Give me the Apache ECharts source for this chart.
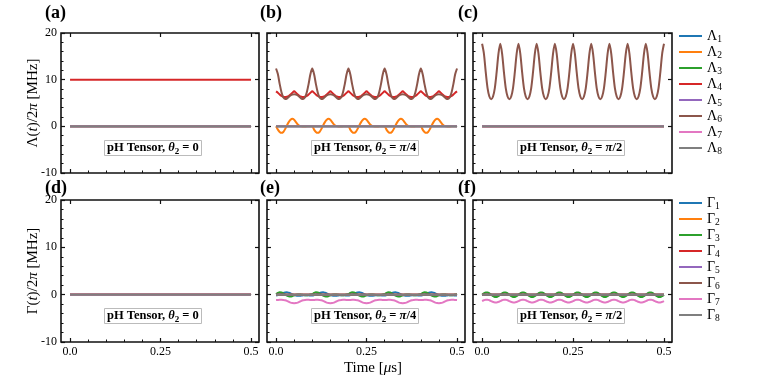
<!DOCTYPE html>
<html><head><meta charset="utf-8">
<script src="https://cdn.jsdelivr.net/npm/echarts@6/dist/echarts.min.js"></script>
<style>html,body{margin:0;padding:0;background:#fff}#c{width:763px;height:382px}</style>
</head><body><div id="c"></div>
<script>
// ---------- data ----------
const T = [
0,0.005,0.01,0.015,0.02,0.025,0.03,0.035,0.04,0.045,
0.05,0.055,0.06,0.065,0.07,0.075,0.08,0.085,0.09,0.095,
0.1,0.105,0.11,0.115,0.12,0.125,0.13,0.135,0.14,0.145,
0.15,0.155,0.16,0.165,0.17,0.175,0.18,0.185,0.19,0.195,
0.2,0.205,0.21,0.215,0.22,0.225,0.23,0.235,0.24,0.245,
0.25,0.255,0.26,0.265,0.27,0.275,0.28,0.285,0.29,0.295,
0.3,0.305,0.31,0.315,0.32,0.325,0.33,0.335,0.34,0.345,
0.35,0.355,0.36,0.365,0.37,0.375,0.38,0.385,0.39,0.395,
0.4,0.405,0.41,0.415,0.42,0.425,0.43,0.435,0.44,0.445,
0.45,0.455,0.46,0.465,0.47,0.475,0.48,0.485,0.49,0.495,
0.5];
const T_ENDS = [0, 0.5];

const X_TICKS = [0, 0.25, 0.5];
const X_TICK_LABELS = ['0.0', '0.25', '0.5'];
const X_MINOR = [0.05, 0.1, 0.15, 0.2, 0.3, 0.35, 0.4, 0.45];
const Y_TICKS = [-10, 0, 10, 20];

const LAMBDA_NAMES = ['Λ1','Λ2','Λ3','Λ4','Λ5','Λ6','Λ7','Λ8'];
const GAMMA_NAMES = ['Γ1','Γ2','Γ3','Γ4','Γ5','Γ6','Γ7','Γ8'];
const PANEL_LABELS = ['(a)','(b)','(c)','(d)','(e)','(f)'];
const PANEL_THETA = ['0','π/4','π/2','0','π/4','π/2'];

// (b) Λ2 orange
const B_L2 = [
0,-0.7,-1.2,-1.4,-1.2,-0.6,0.2,0.9,1.4,1.6,1.4,0.9,0.4,0.1,0,-0.05,-0.05,0,0,0,
0,-0.7,-1.2,-1.4,-1.2,-0.6,0.2,0.9,1.4,1.6,1.4,0.9,0.4,0.1,0,-0.05,-0.05,0,0,0,
0,-0.7,-1.2,-1.4,-1.2,-0.6,0.2,0.9,1.4,1.6,1.4,0.9,0.4,0.1,0,-0.05,-0.05,0,0,0,
0,-0.7,-1.2,-1.4,-1.2,-0.6,0.2,0.9,1.4,1.6,1.4,0.9,0.4,0.1,0,-0.05,-0.05,0,0,0,
0,-0.7,-1.2,-1.4,-1.2,-0.6,0.2,0.9,1.4,1.6,1.4,0.9,0.4,0.1,0,-0.05,-0.05,0,0,0,
0];
// (b) Λ4 red
const B_L4 = [
7.5,7.2,6.8,6.5,6.35,6.3,6.35,6.5,6.8,7.2, 7.5,7.2,6.8,6.5,6.35,6.3,6.35,6.5,6.8,7.2,
7.5,7.2,6.8,6.5,6.35,6.3,6.35,6.5,6.8,7.2, 7.5,7.2,6.8,6.5,6.35,6.3,6.35,6.5,6.8,7.2,
7.5,7.2,6.8,6.5,6.35,6.3,6.35,6.5,6.8,7.2, 7.5,7.2,6.8,6.5,6.35,6.3,6.35,6.5,6.8,7.2,
7.5,7.2,6.8,6.5,6.35,6.3,6.35,6.5,6.8,7.2, 7.5,7.2,6.8,6.5,6.35,6.3,6.35,6.5,6.8,7.2,
7.5,7.2,6.8,6.5,6.35,6.3,6.35,6.5,6.8,7.2, 7.5,7.2,6.8,6.5,6.35,6.3,6.35,6.5,6.8,7.2,
7.5];
// (b) Λ6 brown
const B_L6 = [
12.4,11.2,9.1,7.3,6.2,5.85,5.95,6.3,6.6,6.8,6.9,6.8,6.6,6.3,5.95,5.85,6.2,7.3,9.1,11.2,
12.4,11.2,9.1,7.3,6.2,5.85,5.95,6.3,6.6,6.8,6.9,6.8,6.6,6.3,5.95,5.85,6.2,7.3,9.1,11.2,
12.4,11.2,9.1,7.3,6.2,5.85,5.95,6.3,6.6,6.8,6.9,6.8,6.6,6.3,5.95,5.85,6.2,7.3,9.1,11.2,
12.4,11.2,9.1,7.3,6.2,5.85,5.95,6.3,6.6,6.8,6.9,6.8,6.6,6.3,5.95,5.85,6.2,7.3,9.1,11.2,
12.4,11.2,9.1,7.3,6.2,5.85,5.95,6.3,6.6,6.8,6.9,6.8,6.6,6.3,5.95,5.85,6.2,7.3,9.1,11.2,
12.4];
// (c) Λ6 brown
const C_L6 = [
17.7,15.6,11.6,8.2,6.4,5.8,6.4,8.2,11.6,15.6, 17.7,15.6,11.6,8.2,6.4,5.8,6.4,8.2,11.6,15.6,
17.7,15.6,11.6,8.2,6.4,5.8,6.4,8.2,11.6,15.6, 17.7,15.6,11.6,8.2,6.4,5.8,6.4,8.2,11.6,15.6,
17.7,15.6,11.6,8.2,6.4,5.8,6.4,8.2,11.6,15.6, 17.7,15.6,11.6,8.2,6.4,5.8,6.4,8.2,11.6,15.6,
17.7,15.6,11.6,8.2,6.4,5.8,6.4,8.2,11.6,15.6, 17.7,15.6,11.6,8.2,6.4,5.8,6.4,8.2,11.6,15.6,
17.7,15.6,11.6,8.2,6.4,5.8,6.4,8.2,11.6,15.6, 17.7,15.6,11.6,8.2,6.4,5.8,6.4,8.2,11.6,15.6,
17.7];
// (e) Γ1 blue
const E_G1 = [
-0.2,-0.1,0.05,0.2,0.35,0.45,0.5,0.4,0.25,0.05,-0.1,-0.2,-0.25,-0.25,-0.2,-0.15,-0.1,-0.1,-0.15,-0.2,
-0.2,-0.1,0.05,0.2,0.35,0.45,0.5,0.4,0.25,0.05,-0.1,-0.2,-0.25,-0.25,-0.2,-0.15,-0.1,-0.1,-0.15,-0.2,
-0.2,-0.1,0.05,0.2,0.35,0.45,0.5,0.4,0.25,0.05,-0.1,-0.2,-0.25,-0.25,-0.2,-0.15,-0.1,-0.1,-0.15,-0.2,
-0.2,-0.1,0.05,0.2,0.35,0.45,0.5,0.4,0.25,0.05,-0.1,-0.2,-0.25,-0.25,-0.2,-0.15,-0.1,-0.1,-0.15,-0.2,
-0.2,-0.1,0.05,0.2,0.35,0.45,0.5,0.4,0.25,0.05,-0.1,-0.2,-0.25,-0.25,-0.2,-0.15,-0.1,-0.1,-0.15,-0.2,
-0.2];
// (e) Γ3 green
const E_G3 = [
0.1,0.35,0.5,0.45,0.25,0,-0.2,-0.35,-0.4,-0.3,-0.15,0,0.05,0.05,0,-0.05,-0.1,-0.1,-0.05,0.05,
0.1,0.35,0.5,0.45,0.25,0,-0.2,-0.35,-0.4,-0.3,-0.15,0,0.05,0.05,0,-0.05,-0.1,-0.1,-0.05,0.05,
0.1,0.35,0.5,0.45,0.25,0,-0.2,-0.35,-0.4,-0.3,-0.15,0,0.05,0.05,0,-0.05,-0.1,-0.1,-0.05,0.05,
0.1,0.35,0.5,0.45,0.25,0,-0.2,-0.35,-0.4,-0.3,-0.15,0,0.05,0.05,0,-0.05,-0.1,-0.1,-0.05,0.05,
0.1,0.35,0.5,0.45,0.25,0,-0.2,-0.35,-0.4,-0.3,-0.15,0,0.05,0.05,0,-0.05,-0.1,-0.1,-0.05,0.05,
0.1];
// (e) Γ7 pink
const E_G7 = [
-1.15,-1.12,-1.1,-1.1,-1.12,-1.18,-1.3,-1.5,-1.68,-1.78,-1.8,-1.78,-1.68,-1.5,-1.3,-1.18,-1.12,-1.1,-1.1,-1.12,
-1.15,-1.12,-1.1,-1.1,-1.12,-1.18,-1.3,-1.5,-1.68,-1.78,-1.8,-1.78,-1.68,-1.5,-1.3,-1.18,-1.12,-1.1,-1.1,-1.12,
-1.15,-1.12,-1.1,-1.1,-1.12,-1.18,-1.3,-1.5,-1.68,-1.78,-1.8,-1.78,-1.68,-1.5,-1.3,-1.18,-1.12,-1.1,-1.1,-1.12,
-1.15,-1.12,-1.1,-1.1,-1.12,-1.18,-1.3,-1.5,-1.68,-1.78,-1.8,-1.78,-1.68,-1.5,-1.3,-1.18,-1.12,-1.1,-1.1,-1.12,
-1.15,-1.12,-1.1,-1.1,-1.12,-1.18,-1.3,-1.5,-1.68,-1.78,-1.8,-1.78,-1.68,-1.5,-1.3,-1.18,-1.12,-1.1,-1.1,-1.12,
-1.15];
// (f) Γ3 green
const F_G3 = [
0,0.29,0.48,0.48,0.29,0,-0.29,-0.48,-0.48,-0.29, 0,0.29,0.48,0.48,0.29,0,-0.29,-0.48,-0.48,-0.29,
0,0.29,0.48,0.48,0.29,0,-0.29,-0.48,-0.48,-0.29, 0,0.29,0.48,0.48,0.29,0,-0.29,-0.48,-0.48,-0.29,
0,0.29,0.48,0.48,0.29,0,-0.29,-0.48,-0.48,-0.29, 0,0.29,0.48,0.48,0.29,0,-0.29,-0.48,-0.48,-0.29,
0,0.29,0.48,0.48,0.29,0,-0.29,-0.48,-0.48,-0.29, 0,0.29,0.48,0.48,0.29,0,-0.29,-0.48,-0.48,-0.29,
0,0.29,0.48,0.48,0.29,0,-0.29,-0.48,-0.48,-0.29, 0,0.29,0.48,0.48,0.29,0,-0.29,-0.48,-0.48,-0.29,
0];
// (f) Γ7 pink
const F_G7 = [
-1.35,-1.17,-1.07,-1.07,-1.17,-1.35,-1.53,-1.64,-1.64,-1.53, -1.35,-1.17,-1.07,-1.07,-1.17,-1.35,-1.53,-1.64,-1.64,-1.53,
-1.35,-1.17,-1.07,-1.07,-1.17,-1.35,-1.53,-1.64,-1.64,-1.53, -1.35,-1.17,-1.07,-1.07,-1.17,-1.35,-1.53,-1.64,-1.64,-1.53,
-1.35,-1.17,-1.07,-1.07,-1.17,-1.35,-1.53,-1.64,-1.64,-1.53, -1.35,-1.17,-1.07,-1.07,-1.17,-1.35,-1.53,-1.64,-1.64,-1.53,
-1.35,-1.17,-1.07,-1.07,-1.17,-1.35,-1.53,-1.64,-1.64,-1.53, -1.35,-1.17,-1.07,-1.07,-1.17,-1.35,-1.53,-1.64,-1.64,-1.53,
-1.35,-1.17,-1.07,-1.07,-1.17,-1.35,-1.53,-1.64,-1.64,-1.53, -1.35,-1.17,-1.07,-1.07,-1.17,-1.35,-1.53,-1.64,-1.64,-1.53,
-1.35];

// constant levels are plain numbers, time-varying traces are arrays
const PANEL_A = [0, 0, 0, 10, 0, 0, 0, 0];
const PANEL_B = [0, B_L2, 0, B_L4, 0, B_L6, 0, 0];
const PANEL_C = [0, 0, 0, 0, 0, C_L6, 0, 0];
const PANEL_D = [0, 0, 0, 0, 0, 0, 0, 0];
const PANEL_E = [E_G1, 0, E_G3, 0, 0, 0, E_G7, 0];
const PANEL_F = [0, 0, F_G3, 0, 0, 0, F_G7, 0];
const PANELS = [PANEL_A, PANEL_B, PANEL_C, PANEL_D, PANEL_E, PANEL_F];

const COLORS = ['#1f77b4','#ff7f0e','#2ca02c','#d62728','#9467bd','#8c564b','#e377c2','#7f7f7f'];

// ---------- layout ----------
const FONT = 'Liberation Serif';
const GL = [61, 267, 473], GW = [198, 198, 199];
const GT = [33, 200], GH = [140, 142];
const XMIN = -0.025, XMAX = 0.522;

const grid = [], xAxis = [], yAxis = [], series = [], title = [];
const tickLine = {color: '#111', width: 1.2};
const noLine = {show: false, onZero: false};

for (let g = 0; g < 6; g++) {
  const row = Math.floor(g / 3), col = g % 3;
  grid.push({left: GL[col], top: GT[row], width: GW[col], height: GH[row],
    show: true, borderColor: '#111', borderWidth: 1.6, backgroundColor: 'transparent'});
  const xBase = {type: 'value', gridIndex: g, min: XMIN, max: XMAX,
    axisLine: noLine, splitLine: {show: false}};
  xAxis.push(Object.assign({}, xBase, {position: 'bottom',
    axisTick: {show: true, inside: true, length: 4, customValues: X_TICKS, lineStyle: tickLine},
    axisLabel: {show: row === 1, customValues: X_TICKS, margin: 4,
      formatter: v => { const i = X_TICKS.findIndex(t => Math.abs(t - v) < 1e-9); return i >= 0 ? X_TICK_LABELS[i] : String(v); },
      fontFamily: FONT, fontSize: 12, color: '#000'}}));
  xAxis.push(Object.assign({}, xBase, {position: 'bottom',
    axisTick: {show: true, inside: true, length: 2.5, customValues: X_MINOR, lineStyle: {color: '#111', width: 1}},
    axisLabel: {show: false}}));
  xAxis.push(Object.assign({}, xBase, {position: 'top',
    axisTick: {show: true, inside: true, length: 4, customValues: X_TICKS, lineStyle: tickLine},
    axisLabel: {show: false}}));
  const yBase = {type: 'value', gridIndex: g, min: Y_TICKS[0], max: Y_TICKS[Y_TICKS.length - 1], interval: 10,
    axisLine: noLine, splitLine: {show: false}};
  yAxis.push(Object.assign({}, yBase, {position: 'left',
    axisTick: {show: true, inside: true, length: 4, lineStyle: tickLine},
    minorTick: {show: true, splitNumber: 5, length: 2.5, lineStyle: {color: '#111', width: 1}},
    axisLabel: {show: col === 0, margin: 4, fontFamily: FONT, fontSize: 12, color: '#000'}}));
  yAxis.push(Object.assign({}, yBase, {position: 'right',
    axisTick: {show: true, inside: true, length: 4, lineStyle: tickLine},
    axisLabel: {show: false}}));

  const names = row === 0 ? LAMBDA_NAMES : GAMMA_NAMES;
  PANELS[g].forEach((d, k) => {
    const isConst = typeof d === 'number';
    series.push({
      name: names[k], type: 'line', xAxisIndex: 3 * g, yAxisIndex: 2 * g,
      data: isConst ? T_ENDS.map(t => [t, d]) : T.map((t, i) => [t, d[i]]),
      symbol: 'none', showSymbol: false, smooth: isConst ? false : 0.3,
      color: COLORS[k], lineStyle: {width: 2, color: COLORS[k]},
      animation: false, silent: true
    });
  });

  // panel letter
  const LBL_X = [45, 260, 458], LBL_Y = [4, 179];
  title.push({text: PANEL_LABELS[g], left: LBL_X[col], top: LBL_Y[row], padding: 0,
    textStyle: {fontFamily: FONT, fontWeight: 'bold', fontSize: 18, color: '#000'}});
  // annotation box
  const BOX_X = [104, 311, 517], BOX_Y = [139, 307];
  const th = PANEL_THETA[g];
  const rhs = th === '0' ? '{r| = 0}' : '{r| = }{i|π}{r|' + th.slice(1) + '}';
  title.push({text: '{b|pH Tensor, }{i|θ}{s|2}' + rhs, left: BOX_X[col], top: BOX_Y[row],
    padding: [1, 3, 0, 3], borderColor: '#bbb', borderWidth: 1, backgroundColor: '#fff',
    textStyle: {rich: {
      b: {fontFamily: FONT, fontWeight: 'bold', fontSize: 12.5, lineHeight: 16, color: '#000'},
      i: {fontFamily: FONT, fontStyle: 'italic', fontSize: 12.5, lineHeight: 16, color: '#000'},
      r: {fontFamily: FONT, fontSize: 12.5, lineHeight: 16, color: '#000'},
      s: {fontFamily: FONT, fontSize: 9, verticalAlign: 'bottom', color: '#000'}
    }}});
}

const legendRich = {
  m: {fontFamily: FONT, fontSize: 14, lineHeight: 16, color: '#000'},
  s: {fontFamily: FONT, fontSize: 9.5, verticalAlign: 'bottom', color: '#000'}
};
const legendFmt = n => '{m|' + n[0] + '}{s|' + n.slice(1) + '}';
const legendBase = {orient: 'vertical', left: 678, padding: 0, itemWidth: 23, itemHeight: 14, itemGap: 1,
  itemStyle: {opacity: 0}, formatter: legendFmt, textStyle: {rich: legendRich}, selectedMode: false};

const option = {
  backgroundColor: '#fff',
  animation: false,
  grid, xAxis, yAxis, series, title,
  legend: [
    Object.assign({}, legendBase, {data: LAMBDA_NAMES, top: 29}),
    Object.assign({}, legendBase, {data: GAMMA_NAMES, top: 196})
  ],
  graphic: [
    {type: 'text', x: 33, y: 103, rotation: Math.PI / 2,
      style: {text: '{n|Λ(}{i|t}{n|)/2}{i|π}{n| [MHz]}', align: 'center', verticalAlign: 'middle',
        rich: {n: {fontFamily: FONT, fontSize: 15, fill: '#000'}, i: {fontFamily: FONT, fontStyle: 'italic', fontSize: 15, fill: '#000'}}}},
    {type: 'text', x: 33, y: 271, rotation: Math.PI / 2,
      style: {text: '{n|Γ(}{i|t}{n|)/2}{i|π}{n| [MHz]}', align: 'center', verticalAlign: 'middle',
        rich: {n: {fontFamily: FONT, fontSize: 15, fill: '#000'}, i: {fontFamily: FONT, fontStyle: 'italic', fontSize: 15, fill: '#000'}}}},
    {type: 'text', x: 373, y: 368,
      style: {text: '{n|Time [}{i|μ}{n|s]}', align: 'center', verticalAlign: 'middle',
        rich: {n: {fontFamily: FONT, fontSize: 15, fill: '#000'}, i: {fontFamily: FONT, fontStyle: 'italic', fontSize: 15, fill: '#000'}}}}
  ]
};
const chart = echarts.init(document.getElementById('c'), null, {renderer: 'canvas'});
chart.setOption(option);
</script></body></html>
